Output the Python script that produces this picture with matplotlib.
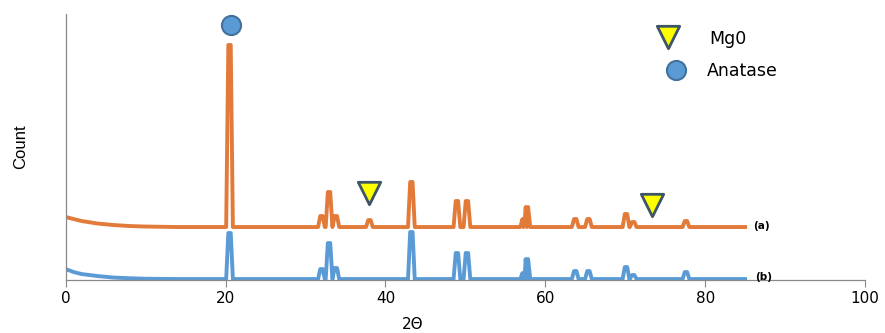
import numpy as np
import matplotlib.pyplot as plt

# peak positions (2theta) shared by both patterns
peak_pos = [20.5, 32.0, 32.95, 33.8, 38.0, 43.25, 48.95, 50.2, 57.3, 57.7,
            63.75, 65.4, 70.1, 71.0, 77.6]
# peak tops (counts, arbitrary units)
peaks_a = [235, 64, 88, 64, 60, 98, 79, 79, 61, 73, 61, 61, 66, 58, 59]
peaks_b = [47, 11, 37, 12, 1, 48, 27, 27, 7, 21, 9, 9, 13, 5, 8]

# background points
bg_x = [0, 1, 2, 4, 6, 8, 10, 14, 85]
bg_a = [63, 61, 59, 56.5, 55, 54, 53.5, 53, 53]
bg_b = [11, 8, 6, 4, 2.5, 1.8, 1.3, 1, 1]

mgo_x = [37.9, 73.4]
mgo_y = [87, 75]
anatase_x = [20.7]
anatase_y = [255]

orange = "#E27B3A"
blue = "#5B9BD5"


def pattern(bg_y, tops, hw=0.42, top_hw=0.15):
    xs = list(bg_x)
    ys = list(bg_y)
    for p, h in zip(peak_pos, tops):
        base = np.interp(p, bg_x, bg_y)
        xs += [p - hw, p - top_hw, p + top_hw, p + hw]
        ys += [base, h, h, base]
    order = np.argsort(xs, kind="stable")
    return np.array(xs)[order], np.array(ys)[order]


fig = plt.figure(figsize=(8.85, 3.33), dpi=100)
ax = fig.add_axes([0.0742, 0.159, 0.9032, 0.799])

xa, ya = pattern(bg_a, peaks_a)
xb, yb = pattern(bg_b, peaks_b)
ax.plot(xa, ya, color=orange, lw=2.8, solid_joinstyle="round")
ax.plot(xb, yb, color=blue, lw=2.8, solid_joinstyle="round")

ax.scatter(mgo_x, mgo_y, marker="v", s=260, c="#FFFF00",
           edgecolors="#3D5566", linewidths=2, zorder=5)
ax.scatter(anatase_x, anatase_y, marker="o", s=190, c=blue,
           edgecolors="#41719C", linewidths=1.5, zorder=5)

# legend drawn as marks + text
ax.scatter([75.3], [243], marker="v", s=260, c="#FFFF00",
           edgecolors="#3D5566", linewidths=2, zorder=5, clip_on=False)
ax.scatter([76.4], [210], marker="o", s=190, c=blue,
           edgecolors="#41719C", linewidths=1.5, zorder=5, clip_on=False)
ax.text(80.5, 241, "Mg0", fontsize=12.5, va="center", family="DejaVu Sans")
ax.text(80.2, 209, "Anatase", fontsize=12.5, va="center", family="DejaVu Sans")

ax.text(86.0, 54, "(a)", fontsize=7.5, fontweight="bold", va="center")
ax.text(86.3, 3, "(b)", fontsize=7.5, fontweight="bold", va="center")

ax.set_xlim(0, 100)
ax.set_ylim(0, 266)
ax.set_xticks(range(0, 101, 20))
ax.set_yticks([])
ax.tick_params(axis="x", direction="out", length=5, color="#888888",
               labelsize=11, pad=3)
for s in ["top", "right"]:
    ax.spines[s].set_visible(False)
for s in ["left", "bottom"]:
    ax.spines[s].set_color("#888888")
    ax.spines[s].set_linewidth(0.9)

ax.set_xlabel("2Θ", fontsize=11, va="center")
ax.xaxis.set_label_coords((413 - 65.7) / 799.3, -0.168)
ax.set_ylabel("Count", fontsize=12, family="Liberation Sans")
ax.yaxis.set_label_coords(-0.047, 0.5)

fig.savefig("out.png", dpi=100)
